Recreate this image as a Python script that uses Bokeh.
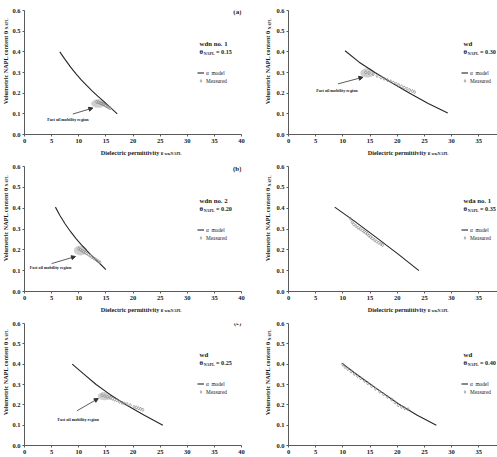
import math
from bokeh.plotting import figure
from bokeh.models import (Range1d, FixedTicker, PrintfTickFormatter, Label, Legend,
                          LegendItem, Arrow, NormalHead)
from bokeh.layouts import column, row
from bokeh.embed import file_html
from bokeh.resources import INLINE

SERIF = "Liberation Serif"

# ---------------- data ----------------
panel_letters = ["(a)", "", "(b)", "", "(c)", ""]
soil_names = ["wdn no. 1", "wd", "wdn no. 2", "wda no. 1", "wd", "wd"]
theta_values = ["0.15", "0.30", "0.20", "0.35", "0.25", "0.40"]

model_a_x = [6.5, 7.5, 8.5, 9.5, 10.5, 11.5, 12.5, 13.5, 14.5, 15.8, 17.1]
model_a_y = [0.40, 0.362, 0.326, 0.293, 0.263, 0.236, 0.210, 0.186, 0.163, 0.131, 0.10]
meas_a_x = [13.3, 13.6, 13.9, 14.1, 14.3, 14.5, 14.7, 14.9, 15.0, 15.2, 15.4, 15.6, 15.8]
meas_a_y = [0.158, 0.156, 0.153, 0.151, 0.149, 0.147, 0.144, 0.141, 0.139, 0.136, 0.133, 0.130, 0.127]

model_b_x = [5.7, 6.5, 7.5, 8.5, 9.5, 10.5, 11.5, 12.5, 13.5, 15.0]
model_b_y = [0.405, 0.366, 0.324, 0.287, 0.254, 0.224, 0.196, 0.169, 0.144, 0.105]
meas_b_x = [10.0, 10.3, 10.6, 10.9, 11.2, 11.5, 11.8, 12.1, 12.4, 12.7, 13.0, 13.3, 13.6, 13.9]
meas_b_y = [0.205, 0.201, 0.196, 0.191, 0.186, 0.182, 0.177, 0.172, 0.166, 0.161, 0.156, 0.150, 0.145, 0.140]

model_c_x = [8.8, 11.0, 13.2, 15.8, 18.7, 22.0, 25.5]
model_c_y = [0.40, 0.35, 0.30, 0.25, 0.20, 0.15, 0.10]
meas_c_x = [14.3, 14.8, 15.3, 15.8, 16.2, 16.6, 17.0, 17.5, 18.0, 18.4, 18.9, 19.5, 20.2, 20.6, 21.0, 21.4, 21.8]
meas_c_y = [0.247, 0.243, 0.239, 0.234, 0.230, 0.226, 0.222, 0.215, 0.210, 0.207, 0.204, 0.198, 0.190, 0.187, 0.183, 0.180, 0.176]

model_d_x = [10.4, 13.0, 15.9, 19.0, 22.3, 25.7, 29.3]
model_d_y = [0.405, 0.35, 0.30, 0.25, 0.20, 0.15, 0.104]
meas_d_x = [14.2, 14.8, 15.6, 16.3, 17.0, 17.6, 18.2, 18.8, 19.3, 19.8, 20.3, 20.8, 21.3, 21.8, 22.3, 22.8, 23.2]
meas_d_y = [0.300, 0.298, 0.292, 0.284, 0.276, 0.270, 0.263, 0.257, 0.251, 0.245, 0.239, 0.233, 0.227, 0.221, 0.215, 0.210, 0.205]

model_e_x = [8.5, 12.0, 16.0, 20.0, 24.0]
model_e_y = [0.405, 0.34, 0.262, 0.183, 0.10]
meas_e_x = [11.4, 11.7, 12.0, 12.4, 12.8, 13.2, 13.6, 13.9, 14.2, 14.5, 14.8, 15.1, 15.4, 15.8, 16.2, 16.6, 17.0, 17.3]
meas_e_y = [0.350, 0.333, 0.322, 0.314, 0.306, 0.300, 0.293, 0.288, 0.282, 0.276, 0.268, 0.262, 0.255, 0.247, 0.240, 0.234, 0.228, 0.223]

model_f_x = [9.8, 12.0, 14.1, 17.0, 20.2, 23.6, 27.2]
model_f_y = [0.405, 0.36, 0.32, 0.265, 0.205, 0.15, 0.10]
meas_f_x = [10.0, 10.4, 10.9, 11.5, 12.1, 12.7, 13.3, 14.0, 14.6, 15.3, 16.0, 16.8, 17.5, 18.2, 19.0, 19.6, 20.2, 20.8, 21.4, 22.0]
meas_f_y = [0.398, 0.386, 0.376, 0.364, 0.352, 0.342, 0.331, 0.318, 0.306, 0.292, 0.279, 0.265, 0.252, 0.240, 0.226, 0.212, 0.198, 0.190, 0.183, 0.178]

# fast oil mobility region (ellipse centre x, y, width, height)
region_a = [13.6, 0.150, 2.6, 0.042]
region_b = [10.3, 0.197, 2.4, 0.048]
region_c = [14.8, 0.243, 2.6, 0.040]
region_d = [14.5, 0.298, 2.6, 0.045]
# arrow start/end and text position
arrow_a = [8.9, 0.099, 12.6, 0.128]
arrow_b = [5.0, 0.134, 9.4, 0.168]
arrow_c = [9.7, 0.171, 13.6, 0.231]
arrow_d = [9.1, 0.245, 13.7, 0.277]
note_a = [8.0, 0.075]
note_b = [4.8, 0.113]
note_c = [9.9, 0.126]
note_d = [8.9, 0.212]

y_ticks = [0.0, 0.1, 0.2, 0.3, 0.4, 0.5, 0.6]
x_ticks_left = [0, 5, 10, 15, 20, 25, 30, 35, 40]
x_ticks_right = [0, 5, 10, 15, 20, 25, 30, 35]

panels = [
    dict(mx=model_a_x, my=model_a_y, sx=meas_a_x, sy=meas_a_y, reg=region_a, arr=arrow_a, note=note_a),
    dict(mx=model_d_x, my=model_d_y, sx=meas_d_x, sy=meas_d_y, reg=region_d, arr=arrow_d, note=note_d),
    dict(mx=model_b_x, my=model_b_y, sx=meas_b_x, sy=meas_b_y, reg=region_b, arr=arrow_b, note=note_b),
    dict(mx=model_e_x, my=model_e_y, sx=meas_e_x, sy=meas_e_y, reg=None, arr=None, note=None),
    dict(mx=model_c_x, my=model_c_y, sx=meas_c_x, sy=meas_c_y, reg=region_c, arr=arrow_c, note=note_c),
    dict(mx=model_f_x, my=model_f_y, sx=meas_f_x, sy=meas_f_y, reg=None, arr=None, note=None),
]

TXT = "#1a1a1a"
AXC = "#5a5a5a"

# layout geometry per row: (main fig height, top border, bottom border, x-title strip height)
ROWS = [(146, 10, 12, 11), (146, 9, 12, 11), (143, 9, 12, 0)]


def lab(p, x, y, text, size, bold=True, align="left", baseline="middle", angle=0.0, units="screen"):
    p.add_layout(Label(x=x, y=y, x_units=units, y_units=units, text=text,
                       text_font=SERIF, text_font_size=f"{size}px",
                       text_font_style="bold" if bold else "normal",
                       text_align=align, text_baseline=baseline, angle=angle,
                       text_color=TXT))


def blank_fig(width, height):
    f = figure(width=width, height=height, output_backend="svg", toolbar_location=None,
               x_range=Range1d(0, 1), y_range=Range1d(0, 1),
               x_axis_location=None, y_axis_location=None, min_border=0)
    f.outline_line_color = None
    f.grid.visible = False
    f.background_fill_color = "white"
    f.border_fill_color = "white"
    return f


def make_panel(i):
    cfg = panels[i]
    left = (i % 2 == 0)
    r = i // 2
    h, top, bottom, _ = ROWS[r]
    width = 241 if left else 224
    xmax = 40 if left else 38.45
    p = figure(width=width, height=h, output_backend="svg", toolbar_location=None,
               x_range=Range1d(0, xmax), y_range=Range1d(0, 0.6),
               min_border_left=13, min_border_right=9 if left else 0,
               min_border_top=top, min_border_bottom=bottom)
    p.outline_line_color = None
    p.xgrid.visible = False
    p.ygrid.visible = False
    p.background_fill_color = "white"
    p.border_fill_color = "white"
    for ax in (p.xaxis[0], p.yaxis[0]):
        ax.axis_line_color = AXC
        ax.axis_line_width = 1
        ax.major_tick_line_color = AXC
        ax.major_tick_out = 2
        ax.major_tick_in = 0
        ax.minor_tick_out = 0
        ax.minor_tick_in = 0
        ax.major_label_standoff = 2
        ax.major_label_text_font = SERIF
        ax.major_label_text_font_style = "bold"
        ax.major_label_text_font_size = "6.5px"
        ax.major_label_text_color = TXT
    p.yaxis[0].ticker = FixedTicker(ticks=y_ticks)
    p.yaxis[0].formatter = PrintfTickFormatter(format="%.1f")
    p.xaxis[0].ticker = FixedTicker(ticks=x_ticks_left if left else x_ticks_right)

    if cfg["reg"] is not None:
        cx, cy, w, hh = cfg["reg"]
        p.ellipse(x=[cx], y=[cy], width=[w], height=[hh], fill_color="#cccccc",
                  fill_alpha=0.95, line_color=None)
    line_r = p.line(cfg["mx"], cfg["my"], line_color="#262626", line_width=1.1)
    meas_r = p.scatter(cfg["sx"], cfg["sy"], marker="diamond", size=3.4, fill_color="white",
                       fill_alpha=0.3, line_color="#7a7a7a", line_width=0.6)
    if cfg["arr"] is not None:
        x0, y0, x1, y1 = cfg["arr"]
        p.add_layout(Arrow(end=NormalHead(size=4, fill_color="#333333", line_color="#333333"),
                           x_start=x0, y_start=y0, x_end=x1, y_end=y1,
                           line_color="#333333", line_width=0.8))
        nx, ny = cfg["note"]
        p.add_layout(Label(x=nx, y=ny, text="Fast oil mobility region", text_font=SERIF,
                           text_font_size="4.2px", text_font_style="bold",
                           text_align="center", text_baseline="middle", text_color=TXT))

    # in-plot annotation
    tx = 175
    lab(p, tx, 91, soil_names[i], 6.8)
    lab(p, tx, 83, "\u03b8", 6.8)
    lab(p, tx + 4.2, 81.5, "NAPL", 4.0)
    lab(p, tx + 16.5, 83, "= " + theta_values[i], 6.2)
    if panel_letters[i]:
        lab(p, 217, 123, panel_letters[i], 7, align="right")

    legend = Legend(items=[LegendItem(label="\u03b1  model", renderers=[line_r]),
                           LegendItem(label="Measured", renderers=[meas_r])],
                    location=(tx - 2, 50), label_text_font=SERIF, label_text_font_size="5.3px",
                    label_text_color=TXT, glyph_width=7, glyph_height=7, label_height=7,
                    label_standoff=2, spacing=1, padding=0, margin=0,
                    background_fill_alpha=0, border_line_color=None)
    p.add_layout(legend, "center")
    return p


def make_ylabel(i):
    left = (i % 2 == 0)
    r = i // 2
    h, top, bottom, _ = ROWS[r]
    w = 9 if left else 23
    f = blank_fig(w, h)
    cx = 4.5 if left else 16.7
    yend = bottom + 92
    lab(f, cx, yend, "Volumetric NAPL content \u03b8", 6.2, align="right", angle=math.pi / 2)
    lab(f, cx + 1.8, yend + 1, "NAPL", 4.0, align="left", angle=math.pi / 2)
    return f


def make_xlabel(i):
    left = (i % 2 == 0)
    r = i // 2
    hh = ROWS[r][3]
    w = 250 if left else 247
    f = blank_fig(w, hh)
    xend = 163 if left else 180
    lab(f, xend, 6.2, "Dielectric permittivity \u03b5", 6.2, align="right")
    lab(f, xend + 1, 4.6, "wn,NAPL", 4.0, align="left")
    return f


rows = []
for r in range(3):
    cells = []
    for c in range(2):
        i = 2 * r + c
        top_part = row(make_ylabel(i), make_panel(i))
        if ROWS[r][3] > 0:
            cells.append(column(top_part, make_xlabel(i)))
        else:
            cells.append(top_part)
    rows.append(row(*cells))

layout = column(*rows)
open("out.html", "w").write(file_html(layout, INLINE))
